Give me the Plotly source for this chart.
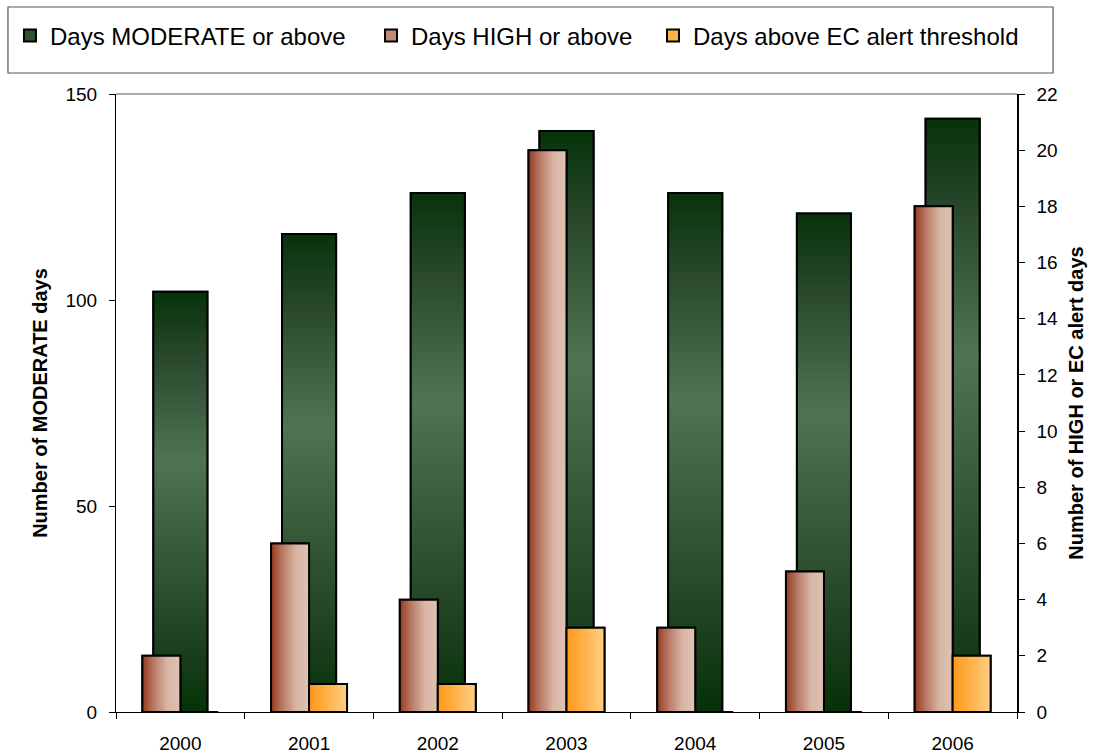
import plotly.graph_objects as go

# ---- data -------------------------------------------------------------
years = ["2000", "2001", "2002", "2003", "2004", "2005", "2006"]
moderate_days = [102, 116, 126, 141, 126, 121, 144]   # left axis
high_days = [2, 6, 4, 20, 3, 5, 18]                   # right axis
ec_alert_days = [0, 1, 1, 3, 0, 0, 2]                 # right axis

series_names = [
    "Days MODERATE or above",
    "Days HIGH or above",
    "Days above EC alert threshold",
]
left_ticks = [0, 50, 100, 150]
right_ticks = list(range(0, 23, 2))

# ---- styling ----------------------------------------------------------
FONT = "Liberation Sans, Arial, Helvetica, sans-serif"
positions = list(range(len(years)))

GREEN_W = 0.42          # width of the wide background bars (category units)
PAIR_W = 0.295          # width of each of the two front bars

green_scale = [[0.0, "#053206"], [0.15, "#1c3f1f"], [0.6, "#4f7453"],
               [0.85, "#28472b"], [1.0, "#06330a"]]
brown_scale = [[0.0, "#963a1e"], [0.3, "#b87a66"], [0.65, "#d8b4a3"],
               [1.0, "#dfc3b4"]]
orange_scale = [[0.0, "#ff9818"], [0.5, "#ffb34c"], [1.0, "#ffcf86"]]

fig = go.Figure()


def add_series(values, name, yaxis, offset, width, base_color, scale,
               direction, legend):
    """One bar trace (legend + outline) plus a gradient fill for every bar."""
    fig.add_trace(go.Bar(
        x=positions, y=values, name=name, yaxis=yaxis, legend=legend,
        offset=offset, width=width,
        marker=dict(color=base_color, line=dict(color="black", width=2)),
        hovertemplate="%{y}<extra>" + name + "</extra>",
    ))
    for xi, v in zip(positions, values):
        if v == 0:
            continue
        left = xi + offset
        right = left + width
        fig.add_trace(go.Scatter(
            x=[left, left, right, right, left],
            y=[0, v, v, 0, 0],
            yaxis=yaxis, mode="lines", fill="toself",
            fillgradient=dict(type=direction, colorscale=scale),
            line=dict(color="black", width=2),
            showlegend=False, hoverinfo="skip",
        ))


add_series(moderate_days, series_names[0], "y", -GREEN_W / 2, GREEN_W,
           "#2e5232", green_scale, "vertical", "legend")
add_series(high_days, series_names[1], "y2", -PAIR_W, PAIR_W,
           "#c08a76", brown_scale, "horizontal", "legend2")
add_series(ec_alert_days, series_names[2], "y2", 0.0, PAIR_W,
           "#ffb347", orange_scale, "horizontal", "legend3")

axis_font = dict(family=FONT, size=19, color="black")
title_font = dict(family=FONT, size=20, color="black", weight="bold")
legend_font = dict(family=FONT, size=24, color="black")


def legend_at(x):
    return dict(orientation="h", x=x, y=1.0939, xanchor="left",
                yanchor="middle", font=legend_font,
                bgcolor="rgba(0,0,0,0)", borderwidth=0)


fig.update_layout(
    width=1094, height=753,
    margin=dict(l=116, r=77, t=94, b=41, autoexpand=False),
    paper_bgcolor="white", plot_bgcolor="white",
    barmode="overlay",
    font=dict(family=FONT, color="black"),
    showlegend=True,
    legend=legend_at(-0.1177),
    legend2=legend_at(0.2830),
    legend3=legend_at(0.5960),
    xaxis=dict(
        range=[-0.5, len(years) - 0.5],
        tickmode="array", tickvals=positions, ticktext=years,
        ticks="", tickfont=axis_font, ticklabelstandoff=14,
        minor=dict(tickmode="array",
                   tickvals=[p - 0.5 for p in positions] + [len(years) - 0.5],
                   ticks="outside", ticklen=6, tickcolor="black", tickwidth=1),
        showline=True, linecolor="black", linewidth=1,
        showgrid=False, zeroline=False, automargin=False,
    ),
    yaxis=dict(
        range=[0, 150], tickmode="array", tickvals=left_ticks,
        ticks="outside", ticklen=6, tickcolor="black",
        tickfont=axis_font, ticklabelstandoff=8,
        showline=True, linecolor="black", linewidth=1,
        showgrid=False, zeroline=False, automargin=False,
        title=dict(text="Number of MODERATE days", font=title_font, standoff=12),
    ),
    yaxis2=dict(
        range=[0, 22], tickmode="array", tickvals=right_ticks,
        overlaying="y", side="right", anchor="x",
        ticks="outside", ticklen=6, tickcolor="black",
        tickfont=axis_font, ticklabelstandoff=8,
        showline=True, linecolor="black", linewidth=1.5,
        showgrid=False, zeroline=False, automargin=False,
        title=dict(text="Number of HIGH or EC alert days", font=title_font, standoff=12),
    ),
    # inner half of the crossing tick marks on the right-hand axis
    yaxis3=dict(
        range=[0, 22], tickmode="array", tickvals=right_ticks,
        overlaying="y", side="right", anchor="x",
        ticks="inside", ticklen=5, tickcolor="black",
        showticklabels=False, showline=False,
        showgrid=False, zeroline=False, automargin=False,
    ),
    shapes=[
        # grey top edge of the plotting area
        dict(type="line", xref="paper", yref="paper", x0=0, x1=1, y0=1, y1=1,
             line=dict(color="#8c8c8c", width=1.5)),
        # frame around the legend
        dict(type="rect", xref="paper", yref="paper",
             x0=-0.1199, x1=1.0400, y0=1.0340, y1=1.1408,
             line=dict(color="#555555", width=1.2), fillcolor="rgba(0,0,0,0)",
             layer="below"),
    ],
)

fig.write_html("out.html")
